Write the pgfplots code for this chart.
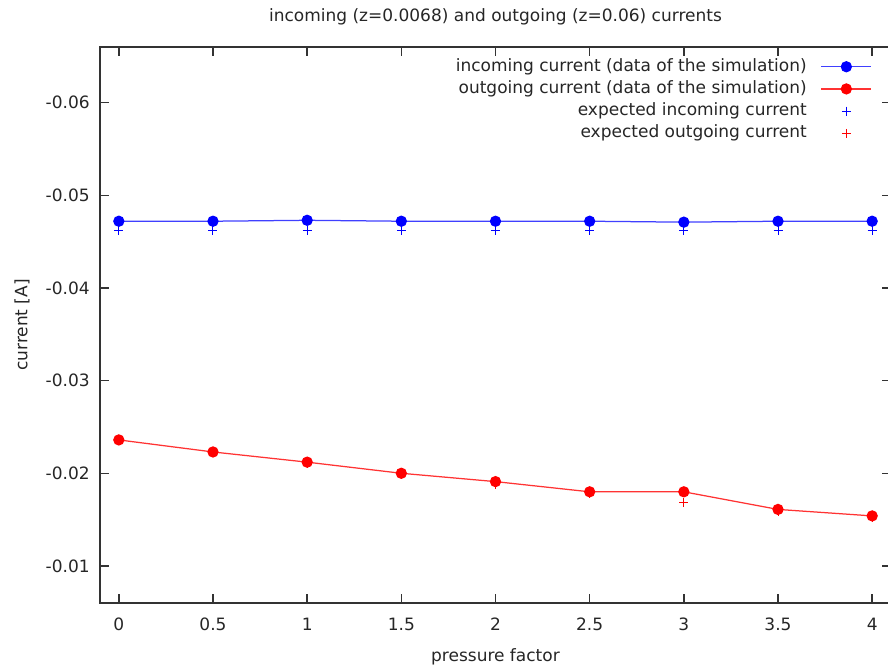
\documentclass[border=0pt]{standalone}
\usepackage{pgfplots}
\pgfplotsset{compat=1.18}
\usepackage{fontspec}
\setmainfont{DejaVu Sans}
\begin{document}
\begin{tikzpicture}[font=\fontsize{10.2}{12}\selectfont]
\begin{axis}[
  name=ax,
  scale only axis,
  width=474.6pt, height=333.6pt,
  xmin=-0.1, xmax=4.1,
  ymin=-0.066, ymax=-0.006,
  y dir=reverse,
  axis line style={black!80, line width=1.2pt},
  every tick/.style={black!80, line width=0.9pt},
  major tick length=5.4pt,
  tick align=inside,
  /pgf/number format/assume math mode=true,
  xtick={0,0.5,1,1.5,2,2.5,3,3.5,4},
  xticklabels={0,0.5,1,1.5,2,2.5,3,3.5,4},
  ytick={-0.06,-0.05,-0.04,-0.03,-0.02,-0.01},
  yticklabels={-0.06,-0.05,-0.04,-0.03,-0.02,-0.01},
  scaled y ticks=false,
  xticklabel style={anchor=base, inner sep=0pt, yshift=-16.6pt, text=black!85},
  yticklabel style={anchor=east, inner sep=0pt, xshift=-6pt, text=black!85},
  every axis title shift=0pt,
  title={incoming (z=0.0068) and outgoing (z=0.06) currents},
  title style={at={(0.5,1)}, anchor=center, yshift=18pt, text=black!85},
  xlabel={pressure factor},
  xlabel style={at={(0.5,0)}, anchor=center, yshift=-32.4pt, text=black!85},
  ylabel={current [A]},
  ylabel style={at={(0,0.5)}, anchor=center, yshift=46.8pt, text=black!85},
  legend plot pos=right,
  legend cell align=right,
  legend style={draw=none, fill=none, at={(1,1)}, anchor=north east,
    xshift=-11.4pt, yshift=-6.6pt, inner sep=0pt, outer sep=0pt,
    column sep=8.4pt, row sep=2.8pt,
    nodes={inner sep=0pt, text height=8pt, text depth=2.5pt, text=black!85}},
]
\addplot[blue!75, line width=0.75pt, mark=*, mark size=3pt, mark options={solid, draw=blue, fill=blue},
  legend image code/.code={\draw[mark repeat=2,mark phase=2] plot coordinates {(0pt,0pt) (15pt,0pt) (30pt,0pt)};}]
  coordinates {(0,-0.0472) (0.5,-0.0472) (1,-0.0473) (1.5,-0.0472) (2,-0.0472) (2.5,-0.0472) (3,-0.0471) (3.5,-0.0472) (4,-0.0472)};
\addlegendentry{incoming current (data of the simulation)}
\addplot[red!80, line width=0.75pt, mark=*, mark size=3pt, mark options={solid, draw=red, fill=red},
  legend image code/.code={\draw[mark repeat=2,mark phase=2] plot coordinates {(0pt,0pt) (15pt,0pt) (30pt,0pt)};}]
  coordinates {(0,-0.0236) (0.5,-0.0223) (1,-0.0212) (1.5,-0.0200) (2,-0.0191) (2.5,-0.0180) (3,-0.0180) (3.5,-0.0161) (4,-0.0154)};
\addlegendentry{outgoing current (data of the simulation)}
\addplot[blue, only marks, mark=+, mark size=2.7pt, mark options={line width=0.6pt},
  legend image code/.code={\path[mark repeat=2,mark phase=2] plot coordinates {(0pt,0pt) (15pt,0pt) (30pt,0pt)};}]
  coordinates {(0,-0.0462) (0.5,-0.0462) (1,-0.0462) (1.5,-0.0462) (2,-0.0462) (2.5,-0.0462) (3,-0.0462) (3.5,-0.0462) (4,-0.0462)};
\addlegendentry{expected incoming current}
\addplot[red, only marks, mark=+, mark size=2.7pt, mark options={line width=0.6pt},
  legend image code/.code={\path[mark repeat=2,mark phase=2] plot coordinates {(0pt,0pt) (15pt,0pt) (30pt,0pt)};}]
  coordinates {(0,-0.0235) (0.5,-0.0222) (1,-0.0211) (1.5,-0.0199) (2,-0.0188) (2.5,-0.0178) (3,-0.0168) (3.5,-0.0159) (4,-0.0152)};
\addlegendentry{expected outgoing current}
\end{axis}
\pgfresetboundingbox
\path ([xshift=-60pt,yshift=-40.8pt]ax.south west) rectangle ([xshift=472.8pt,yshift=361.8pt]ax.south west);
\end{tikzpicture}
\end{document}
